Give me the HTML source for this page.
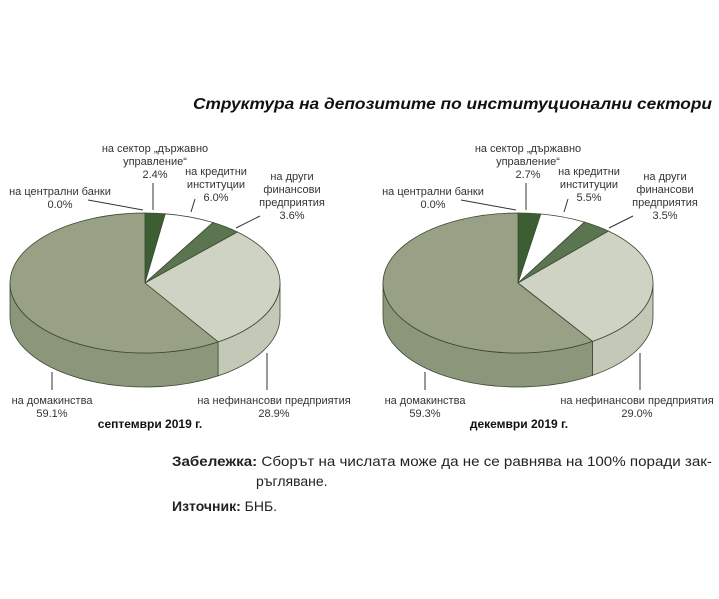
<!DOCTYPE html>
<html><head><meta charset="utf-8"><style>
body{margin:0;background:#fff;width:719px;height:599px;overflow:hidden}
svg{display:block}
text{font-family:"Liberation Sans","DejaVu Sans",sans-serif;font-size:11px;fill:#333}
.b{font-weight:bold;font-size:12px;fill:#111}
</style></head><body>
<svg id="s" width="719" height="599" xmlns="http://www.w3.org/2000/svg">
<text x="193" y="109" textLength="519" lengthAdjust="spacingAndGlyphs" style="font-weight:bold;font-style:italic;font-size:16px;fill:#111">Структура на депозитите по институционални сектори</text>
<text x="172" y="466" textLength="540" lengthAdjust="spacingAndGlyphs" style="font-size:14px;fill:#222"><tspan font-weight="bold">Забележка:</tspan> Сборът на числата може да не се равнява на 100% поради зак-</text>
<text x="256" y="486" style="font-size:14px;fill:#222">ръгляване.</text>
<text x="172" y="511" style="font-size:14px;fill:#222"><tspan font-weight="bold">Източник:</tspan> БНБ.</text>
</svg>
<script>
const S=document.getElementById('s'),NS='http://www.w3.org/2000/svg';
function el(t,a,txt){const e=document.createElementNS(NS,t);for(const k in a)e.setAttribute(k,a[k]);if(txt!==undefined)e.textContent=txt;S.appendChild(e);return e;}
const cols=['#3d5e33','#3d5e33','#ffffff','#5a7550','#cfd3c4','#98a186'];
const side=['#33502b','#33502b','#e8e8e8','#4d6644','#c3c8b7','#8c967a'];
function pie(cx,cy,vals,lab){
 const rx=135,ry=70,h=34,st='#3a4a32';
 const P=t=>[cx+rx*Math.sin(t),cy-ry*Math.cos(t)];
 let cum=0,segs=[];
 vals.forEach((v,i)=>{const a=cum/100*2*Math.PI;cum+=v;const b=(i==vals.length-1?2*Math.PI:cum/100*2*Math.PI);segs.push([a,b,i]);});
 segs.forEach(([a,b,i])=>{const s=Math.max(a,Math.PI/2),e=Math.min(b,1.5*Math.PI);if(e<=s)return;
  const p1=P(s),p2=P(e);
  el('path',{d:`M${p1[0]},${p1[1]} A${rx},${ry} 0 0 1 ${p2[0]},${p2[1]} L${p2[0]},${p2[1]+h} A${rx},${ry} 0 0 0 ${p1[0]},${p1[1]+h} Z`,fill:side[i],stroke:st,'stroke-width':0.8});});
 segs.forEach(([a,b,i])=>{if(b-a<1e-4)return;const p1=P(a),p2=P(b);const lg=(b-a)>Math.PI?1:0;
  el('path',{d:`M${cx},${cy} L${p1[0]},${p1[1]} A${rx},${ry} 0 ${lg} 1 ${p2[0]},${p2[1]} Z`,fill:cols[i],stroke:st,'stroke-width':0.8});});
 lab.forEach(l=>{if(l.line)el('line',{x1:l.line[0],y1:l.line[1],x2:l.line[2],y2:l.line[3],stroke:'#333','stroke-width':1});
  l.t.forEach((s,j)=>el('text',{x:l.x,y:l.y+j*13,'text-anchor':'middle',class:l.c||''},s));});
}
function labs(dx,v,nx){return [
 {x:155+dx,y:152,t:['на сектор „държавно','управление“',v[1]],line:[153+dx,183,153+dx,210]},
 {x:60+dx,y:195,t:['на централни банки',v[0]],line:[88+dx,200,143+dx,210]},
 {x:216+dx,y:175,t:['на кредитни','институции',v[2]],line:[195+dx,199,191+dx,212]},
 {x:292+dx,y:180,t:['на други','финансови','предприятия',v[3]],line:[260+dx,216,236+dx,228]},
 {x:52+dx,y:404,t:['на домакинства',v[5]],line:[52+dx,372,52+dx,390]},
 {x:nx,y:404,t:['на нефинансови предприятия',v[4]],line:[267+dx,353,267+dx,390]},
];}
const L1=labs(0,['0.0%','2.4%','6.0%','3.6%','28.9%','59.1%'],274);L1.push({x:150,y:428,t:['септември 2019 г.'],c:'b'});
pie(145,283,[0,2.4,6.0,3.6,28.9,59.1],L1);
const L2=labs(373,['0.0%','2.7%','5.5%','3.5%','29.0%','59.3%'],637);L2.push({x:519,y:428,t:['декември 2019 г.'],c:'b'});
pie(518,283,[0,2.7,5.5,3.5,29.0,59.3],L2);
</script>
</body></html>
